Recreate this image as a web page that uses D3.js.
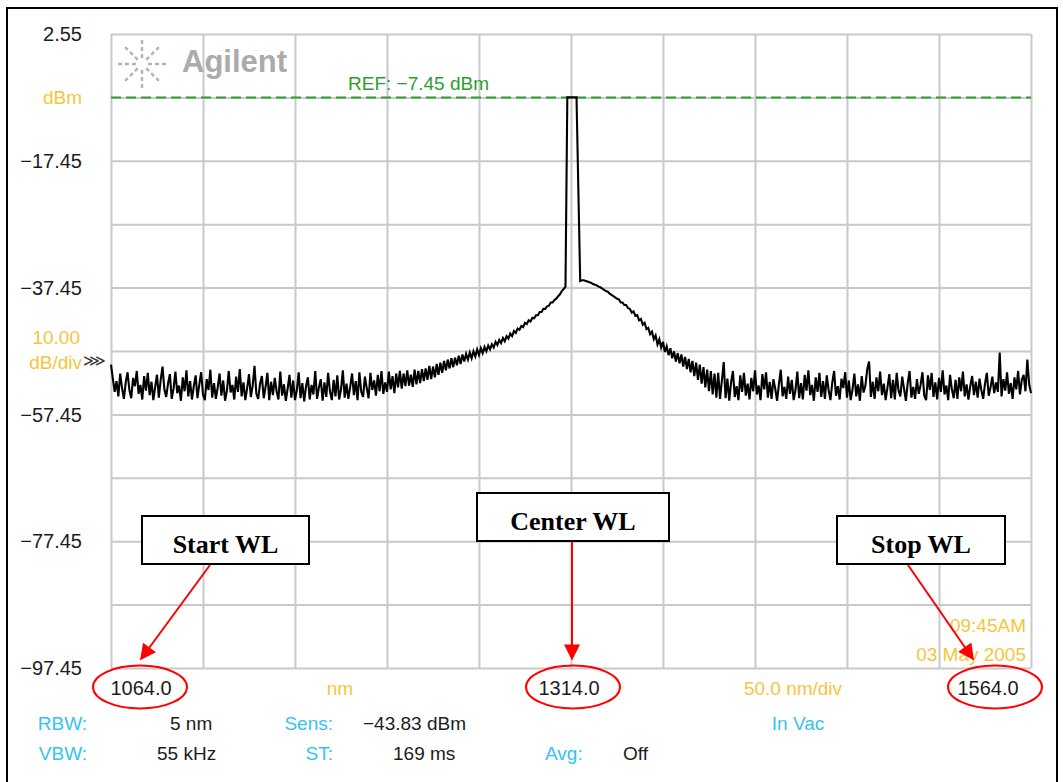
<!DOCTYPE html>
<html>
<head>
<meta charset="utf-8">
<script src="https://cdn.jsdelivr.net/npm/d3@7"></script>
<style>
  body { margin: 0; background: #fff; }
  text { font-family: "Liberation Sans", Arial, sans-serif; }
</style>
</head>
<body>
<svg id="osa" width="1063" height="782"></svg>
<script>
// OSA sweep settings
const wlStart = 1064.0, wlCenter = 1314.0, wlStop = 1564.0, wlDiv = 50.0;
const wlStep = 1.0;            // one sample per nm
const refLevel = -7.45, topLevel = 2.55, dbPerDiv = 10;

// y labels on the left (every other division)
const yLabelVals = [2.55, -17.45, -37.45, -57.45, -77.45, -97.45];

// trace, dBm, from 1064 nm to 1564 nm, 1 nm apart
const powerDbm = [
  // 1064 - 1220 noise floor
  -49.6, -51.8, -53.9, -52.2, -54.6, -51.0, -53.3, -55.0, -52.4, -50.8,
  -53.6, -54.9, -51.7, -53.0, -50.6, -54.2, -52.8, -55.1, -51.4, -53.7,
  -50.9, -54.4, -52.3, -55.2, -53.1, -51.2, -54.8, -52.0, -49.9, -53.5,
  -54.7, -52.6, -51.1, -55.0, -53.4, -50.7, -54.1, -52.9, -55.3, -51.6,
  -53.8, -50.5, -54.6, -52.2, -55.1, -53.0, -51.3, -54.9, -52.7, -50.8,
  -54.3, -55.2, -51.9, -53.6, -50.4, -54.8, -52.5, -55.0, -53.2, -51.0,
  -54.5, -52.1, -55.3, -53.7, -50.6, -54.0, -52.8, -55.1, -51.5, -53.9,
  -50.3, -54.6, -52.4, -55.2, -53.3, -51.1, -54.7, -52.9, -49.8, -54.2,
  -55.0, -52.6, -51.4, -54.9, -53.1, -50.9, -55.2, -52.3, -54.4, -51.7,
  -53.8, -55.1, -50.7, -54.5, -52.7, -55.3, -53.4, -51.2, -54.8, -52.1,
  -55.2, -53.6, -50.8, -54.9, -52.5, -55.4, -53.0, -51.6, -55.1, -52.8,
  -54.3, -50.6, -55.0, -53.2, -51.9, -55.3, -52.4, -54.7, -50.9, -53.8,
  -55.2, -52.0, -54.6, -51.3, -55.1, -53.5, -50.5, -54.8, -52.6, -55.0,
  -53.1, -51.0, -54.4, -52.2, -55.2, -50.8, -53.9, -54.7, -51.5, -53.3,
  -54.9, -50.9, -53.6, -52.1, -54.5, -51.2, -53.8, -50.6, -54.2, -52.4,
  -53.9, -50.7, -53.5, -51.4, -54.1, -51.0, -53.2,
  // 1221 - 1311 rising shoulder
  -50.6, -53.4, -51.0, -53.0, -50.5, -52.9, -51.2, -53.1, -50.4, -52.7,
  -50.6, -52.5, -50.3, -52.2, -50.2, -52.0, -49.8, -51.9, -49.9, -51.6,
  -49.5, -51.2, -49.3, -50.9, -49.0, -50.5, -48.8, -50.2, -48.6, -50.0,
  -48.5, -49.7, -48.2, -49.5, -48.0, -49.1, -47.9, -48.8, -47.7, -48.6,
  -47.5, -48.3, -47.2, -48.1, -47.0, -47.8, -46.8, -47.5, -46.6, -47.2,
  -46.4, -46.9, -46.0, -46.5, -45.7, -46.2, -45.4, -45.9, -45.1, -45.5,
  -44.7, -45.1, -44.3, -44.6, -43.9, -44.1, -43.5, -43.7, -43.0, -43.2,
  -42.6, -42.8, -42.2, -42.3, -41.8, -41.8, -41.3, -41.3, -40.8, -40.8,
  -40.4, -40.3, -39.8, -39.8, -39.4, -39.2, -38.8, -38.5, -38.0, -37.7,
  -37.3,
  // 1312 - 1319 laser line (RBW limited)
  -7.45, -7.45, -7.45, -7.45, -7.45, -7.45, -22.0, -36.4,
  // 1320 - 1395 falling shoulder
  -36.3, -36.3, -36.4, -36.5, -36.6, -36.7, -36.9, -37.0, -37.1, -37.3,
  -37.4, -37.6, -37.8, -38.0, -38.1, -38.4, -38.6, -38.8, -39.0, -39.2,
  -39.3, -39.8, -39.8, -40.2, -40.2, -40.7, -40.8, -41.4, -41.2, -41.9,
  -41.8, -42.6, -42.4, -43.3, -43.0, -44.0, -43.8, -44.8, -44.4, -45.6,
  -45.0, -46.4, -45.6, -46.9, -46.0, -47.6, -46.7, -48.1, -47.0, -48.6,
  -47.5, -49.1, -47.8, -49.4, -48.0, -49.9, -48.4, -50.3, -48.7, -50.8,
  -49.0, -51.4, -49.3, -52.0, -49.6, -52.6, -50.0, -53.2, -50.4, -53.8,
  -50.6, -54.3, -51.0, -54.8, -50.9, -55.0,
  // 1396 - 1564 noise floor
  -52.1, -49.2, -54.9, -51.8, -55.3, -52.4, -50.6, -54.7, -53.0, -55.2,
  -51.3, -53.9, -50.9, -54.5, -52.6, -55.1, -51.7, -53.8, -50.5, -54.3,
  -52.9, -55.2, -51.1, -53.5, -50.8, -54.8, -52.3, -55.0, -51.9, -53.4,
  -55.3, -52.7, -50.4, -54.6, -53.1, -55.0, -51.5, -54.2, -52.0, -55.2,
  -53.6, -50.7, -54.9, -52.5, -55.1, -51.2, -53.7, -50.5, -54.4, -52.8,
  -55.3, -51.6, -53.9, -50.9, -54.7, -52.2, -55.0, -51.3, -53.6, -55.2,
  -52.4, -50.6, -54.5, -53.0, -55.1, -51.8, -53.3, -50.8, -54.8, -52.1,
  -55.2, -53.5, -51.0, -54.6, -52.7, -55.3, -51.4, -54.0, -52.9, -50.3,
  -49.1, -54.7, -52.3, -55.0, -51.6, -53.8, -50.7, -54.4, -52.6, -55.2,
  -53.2, -51.1, -54.9, -52.0, -55.1, -50.9, -53.7, -54.6, -51.5, -53.4,
  -55.3, -52.5, -50.6, -54.8, -53.1, -55.0, -51.9, -54.2, -52.8, -50.8,
  -54.5, -55.2, -51.3, -53.6, -50.9, -54.7, -52.4, -55.1, -51.7, -53.9,
  -50.5, -54.3, -52.9, -55.2, -51.2, -53.5, -54.9, -52.0, -55.0, -51.6,
  -53.8, -50.7, -54.6, -52.7, -55.1, -53.0, -51.4, -54.4, -52.3, -54.8,
  -51.8, -53.6, -55.0, -52.6, -50.9, -54.5, -53.2, -51.5, -54.1, -52.4,
  -53.9, -47.7, -54.6, -51.9, -53.7, -50.8, -54.2, -52.5, -55.0, -51.6,
  -53.5, -50.6, -54.3, -52.0, -51.2, -53.8, -48.8, -52.7, -54.1
];

// instrument settings shown under the screen
const settingLabels = ["RBW:", "VBW:", "Sens:", "ST:", "Avg:", "In Vac"];
const settingValues = ["5 nm", "55 kHz", "\u221243.83 dBm", "169 ms", "Off"];
const timeStamp = ["09:45AM", "03 May 2005"];
const calloutNames = ["Start WL", "Center WL", "Stop WL"];

const YELLOW = "#f7c53c", CYAN = "#35c4f2", GRID = "#c9c9c9", GREEN = "#2f9c2f", RED = "#ff0000";

const svg = d3.select("#osa");
const plot = {left: 111, right: 1031, top: 34, bottom: 668};

const x = d3.scaleLinear().domain([wlStart, wlStop]).range([plot.left, plot.right]);
const yBottom = topLevel - 10 * dbPerDiv;
const y = d3.scaleLinear().domain([yBottom, topLevel]).range([plot.bottom, plot.top]);

// outer frame
svg.append("path")
  .attr("d", "M7,790 V8 H1057 V790")
  .attr("fill", "none").attr("stroke", "#000").attr("stroke-width", 2);

// grid, from the axes
const xGridVals = d3.range(0, 11).map(i => wlStart + i * wlDiv);
const yGridVals = d3.range(0, 11).map(i => topLevel - i * dbPerDiv);

svg.append("g")
  .attr("transform", `translate(0,${plot.bottom})`)
  .call(d3.axisBottom(x).tickValues(xGridVals).tickSize(-(plot.bottom - plot.top)).tickFormat(""))
  .call(g => g.select(".domain").remove())
  .call(g => g.selectAll("line").attr("stroke", GRID).attr("stroke-width", 2));

svg.append("g")
  .attr("transform", `translate(${plot.left},0)`)
  .call(d3.axisLeft(y).tickValues(yGridVals).tickSize(-(plot.right - plot.left)).tickFormat(""))
  .call(g => g.select(".domain").remove())
  .call(g => g.selectAll("line").attr("stroke", GRID).attr("stroke-width", 2));

// Agilent logo
const logo = svg.append("g").attr("transform", "translate(142,64)");
d3.range(8).forEach(k => {
  const a = k * Math.PI / 4;
  logo.append("line")
    .attr("x1", 6 * Math.cos(a)).attr("y1", 6 * Math.sin(a))
    .attr("x2", 24 * Math.cos(a)).attr("y2", 24 * Math.sin(a))
    .attr("stroke", "#b4b4b4").attr("stroke-width", 2.5)
    .attr("stroke-dasharray", "4,3");
});
svg.append("text")
  .attr("x", 182).attr("y", 72)
  .attr("font-size", 31).attr("font-weight", "bold")
  .attr("fill", "#ababab")
  .text("Agilent");

// reference level
svg.append("line")
  .attr("x1", plot.left).attr("x2", plot.right)
  .attr("y1", y(refLevel)).attr("y2", y(refLevel))
  .attr("stroke", GREEN).attr("stroke-width", 2)
  .attr("stroke-dasharray", "10,5");
svg.append("text")
  .attr("x", 348).attr("y", 90)
  .attr("font-size", 19).attr("fill", GREEN)
  .text(`REF: \u2212${Math.abs(refLevel).toFixed(2)} dBm`);

// trace
const line = d3.line()
  .x((d, i) => x(wlStart + i * wlStep))
  .y(d => y(d));
svg.append("path")
  .datum(powerDbm)
  .attr("d", line)
  .attr("fill", "none")
  .attr("stroke", "#000")
  .attr("stroke-width", 2.1)
  .attr("stroke-linejoin", "miter");

// left labels
const fmt = v => (v < 0 ? "\u2212" : "") + Math.abs(v).toFixed(2);
svg.append("g").selectAll("text")
  .data(yLabelVals)
  .join("text")
  .attr("x", 82).attr("y", d => y(d))
  .attr("dy", "0.36em")
  .attr("text-anchor", "end")
  .attr("font-size", 20).attr("fill", "#1c1c1c")
  .text(fmt);

svg.append("text").attr("x", 82).attr("y", y(refLevel)).attr("dy", "0.36em")
  .attr("text-anchor", "end").attr("font-size", 19).attr("fill", YELLOW).text("dBm");
svg.append("text").attr("x", 80).attr("y", 337).attr("dy", "0.36em")
  .attr("text-anchor", "end").attr("font-size", 19).attr("fill", YELLOW)
  .text(dbPerDiv.toFixed(2));
svg.append("text").attr("x", 82).attr("y", 362).attr("dy", "0.36em")
  .attr("text-anchor", "end").attr("font-size", 19).attr("fill", YELLOW).text("dB/div");
svg.append("text").attr("x", 83).attr("y", 360).attr("dy", "0.36em")
  .style("font-family", "DejaVu Sans").attr("font-size", 16).attr("fill", "#333")
  .text("\u22D9");

// bottom wavelength labels
const wlFmt = v => v.toFixed(1);
const bottomRowY = 688;
[[wlStart, 141], [wlCenter, 569], [wlStop, 988]].forEach(([v, cx]) => {
  svg.append("text").attr("x", cx).attr("y", bottomRowY).attr("dy", "0.36em")
    .attr("text-anchor", "middle").attr("font-size", 20).attr("fill", "#1c1c1c")
    .text(wlFmt(v));
});
svg.append("text").attr("x", 340).attr("y", bottomRowY).attr("dy", "0.36em")
  .attr("text-anchor", "middle").attr("font-size", 19).attr("fill", YELLOW).text("nm");
svg.append("text").attr("x", 793).attr("y", bottomRowY).attr("dy", "0.36em")
  .attr("text-anchor", "middle").attr("font-size", 19).attr("fill", YELLOW)
  .text(`${wlDiv.toFixed(1)} nm/div`);

// timestamp
timeStamp.forEach((t, i) => {
  svg.append("text").attr("x", 1026).attr("y", 625 + i * 29).attr("dy", "0.36em")
    .attr("text-anchor", "end").attr("font-size", 19).attr("fill", YELLOW).text(t);
});

// settings block
const row1 = 723, row2 = 753;
const labelPos = [[87, row1, "end"], [87, row2, "end"], [333, row1, "end"], [333, row2, "end"], [545, row2, "start"], [798, row1, "middle"]];
settingLabels.forEach((t, i) => {
  const [lx, ly, anchor] = labelPos[i];
  svg.append("text").attr("x", lx).attr("y", ly).attr("dy", "0.36em")
    .attr("text-anchor", anchor).attr("font-size", 19).attr("fill", CYAN).text(t);
});
const valuePos = [[170, row1], [157, row2], [363, row1], [393, row2], [623, row2]];
settingValues.forEach((t, i) => {
  const [vx, vy] = valuePos[i];
  svg.append("text").attr("x", vx).attr("y", vy).attr("dy", "0.36em")
    .attr("font-size", 19).attr("fill", "#1c1c1c").text(t);
});

// callouts: ellipses, arrows, boxes
const defs = svg.append("defs");
defs.append("marker")
  .attr("id", "head").attr("viewBox", "0 0 10 10")
  .attr("refX", 9).attr("refY", 5)
  .attr("markerWidth", 9).attr("markerHeight", 8)
  .attr("markerUnits", "strokeWidth")
  .attr("orient", "auto")
  .append("path").attr("d", "M0,0 L10,5 L0,10 Z").attr("fill", RED);

const ellipses = [[140, 687], [573, 687], [995, 687]];
ellipses.forEach(([cx, cy]) => {
  svg.append("ellipse").attr("cx", cx).attr("cy", cy).attr("rx", 47).attr("ry", 21.5)
    .attr("fill", "none").attr("stroke", RED).attr("stroke-width", 2);
});

const arrows = [[210, 565, 141, 659], [572, 541, 572, 659], [908, 565, 973, 659]];
arrows.forEach(([x1, y1, x2, y2]) => {
  svg.append("line").attr("x1", x1).attr("y1", y1).attr("x2", x2).attr("y2", y2)
    .attr("stroke", RED).attr("stroke-width", 2).attr("marker-end", "url(#head)");
});

const boxes = [[142, 516, 167, 48], [477, 493, 192, 48], [837, 516, 168, 48]];
boxes.forEach(([bx, by, bw, bh], i) => {
  svg.append("rect").attr("x", bx).attr("y", by).attr("width", bw).attr("height", bh)
    .attr("fill", "#fff").attr("stroke", "#000").attr("stroke-width", 2);
  svg.append("text").attr("x", bx + bw / 2).attr("y", by + 37)
    .attr("text-anchor", "middle")
    .style("font-family", "'Liberation Serif', 'Times New Roman', serif")
    .attr("font-weight", "bold").attr("font-size", 26).attr("fill", "#000")
    .text(calloutNames[i]);
});
</script>
</body>
</html>
